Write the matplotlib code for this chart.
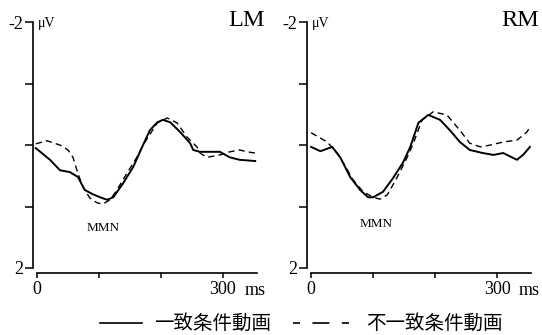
import matplotlib.pyplot as plt
from matplotlib.lines import Line2D
from matplotlib import font_manager

plt.rcParams["lines.scale_dashes"] = False

# ERP waveforms (ms, uV; negative plotted up)
lm_solid_t = [-2, 21, 37, 53, 66, 77, 90, 102, 113, 123, 139, 155, 171, 182, 194, 203, 215, 231, 247, 252, 263, 295, 311, 327, 352]
lm_solid_v = [0.05, 0.24, 0.41, 0.44, 0.52, 0.73, 0.80, 0.85, 0.89, 0.85, 0.62, 0.36, 0.0, -0.24, -0.37, -0.41, -0.37, -0.21, -0.03, 0.08, 0.11, 0.11, 0.20, 0.24, 0.26]
lm_dash_t = [-2, 16, 37, 50, 58, 66, 74, 85, 97, 106, 118, 129, 145, 161, 171, 194, 210, 226, 242, 258, 263, 274, 295, 311, 327, 339, 352]
lm_dash_v = [-0.02, -0.07, 0.0, 0.08, 0.20, 0.46, 0.68, 0.86, 0.94, 0.96, 0.89, 0.73, 0.46, 0.20, 0.0, -0.36, -0.44, -0.36, -0.13, 0.03, 0.13, 0.20, 0.16, 0.11, 0.08, 0.11, 0.13]

rm_solid_t = [0, 15, 34, 47, 63, 79, 92, 100, 116, 132, 148, 160, 173, 189, 208, 224, 240, 256, 277, 294, 310, 332, 342, 353]
rm_solid_v = [0.03, 0.10, 0.03, 0.20, 0.52, 0.73, 0.85, 0.85, 0.76, 0.54, 0.29, 0.03, -0.36, -0.49, -0.41, -0.24, -0.05, 0.08, 0.13, 0.16, 0.13, 0.24, 0.16, 0.03]
rm_dash_t = [0, 26, 42, 52, 68, 84, 100, 111, 123, 139, 155, 165, 179, 197, 219, 240, 256, 273, 289, 310, 332, 348, 353]
rm_dash_v = [-0.20, -0.05, 0.13, 0.29, 0.57, 0.76, 0.85, 0.88, 0.81, 0.52, 0.20, -0.03, -0.41, -0.54, -0.49, -0.24, -0.03, 0.03, 0.0, -0.05, -0.08, -0.21, -0.29]

panels = [
    ("LM", lm_solid_t, lm_solid_v, lm_dash_t, lm_dash_v, (106, 1.35)),
    ("RM", rm_solid_t, rm_solid_v, rm_dash_t, rm_dash_v, (105, 1.28)),
]
legend_labels = ["一致条件動画", "不一致条件動画"]

serif = ["Liberation Serif", "DejaVu Serif"]
cjk = ["Noto Sans CJK JP", "DejaVu Sans"]
names = {f.name for f in font_manager.fontManager.ttflist}
narrow = "Liberation Sans Narrow" if "Liberation Sans Narrow" in names else "Liberation Serif"

fig = plt.figure(figsize=(5.42, 3.35), dpi=100)
lefts = [0.0603, 0.566]

for left, (name, st, sv, dt, dv, mmn) in zip(lefts, panels):
    ax = fig.add_axes([left, 0.2, 0.414, 0.734])
    ax.plot(st, sv, color="black", lw=1.4)
    ax.plot(dt, dv, color="black", lw=1.0, linestyle=(0, (4.5, 3)))
    ax.set_xlim(-7, 355)
    ax.set_ylim(2, -2)
    for s in ["top", "right"]:
        ax.spines[s].set_visible(False)
    ax.spines["bottom"].set_position(("outward", 3.6))
    ax.spines["bottom"].set_bounds(0, 355)
    ax.spines["left"].set_linewidth(1.2)
    ax.spines["bottom"].set_linewidth(1.2)
    ax.set_yticks([-2, -1, 0, 1, 2])
    ax.set_yticklabels(["-2", "", "", "", "2"], fontfamily=serif, fontsize=13)
    ax.set_xticks([0, 100, 200, 300])
    ax.set_xticklabels(["0", "", "", "300"], fontfamily=serif, fontsize=13)
    ax.tick_params(axis="y", length=6, width=1.1, pad=1)
    ax.tick_params(axis="x", length=3.6, width=1.1, pad=2)
    ax.text(352, 2.37, "ms", fontfamily=serif, fontsize=13, ha="center", va="center",
            clip_on=False)
    ax.text(1, -1.97, "μV", fontfamily=serif, fontsize=10, ha="left", va="center")
    ax.text(368, -2.02, name, fontfamily=serif, fontsize=17.5, ha="right", va="center",
            clip_on=False)
    ax.text(mmn[0], mmn[1], "MMN", fontfamily=narrow, fontsize=9.5, ha="center", va="center")

# legend drawn by hand along the bottom
ly = 0.036
fig.add_artist(Line2D([0.1845, 0.262], [ly, ly], color="black", lw=1.2))
fig.text(0.285, ly, legend_labels[0], fontfamily=cjk, fontsize=14, ha="left", va="center")
fig.add_artist(Line2D([0.5406, 0.644], [ly, ly], color="black", lw=1.2,
                      linestyle=(7.2, (12.2, 9))))
fig.text(0.676, ly, legend_labels[1], fontfamily=cjk, fontsize=14, ha="left", va="center")

fig.savefig("out.png", dpi=100)
